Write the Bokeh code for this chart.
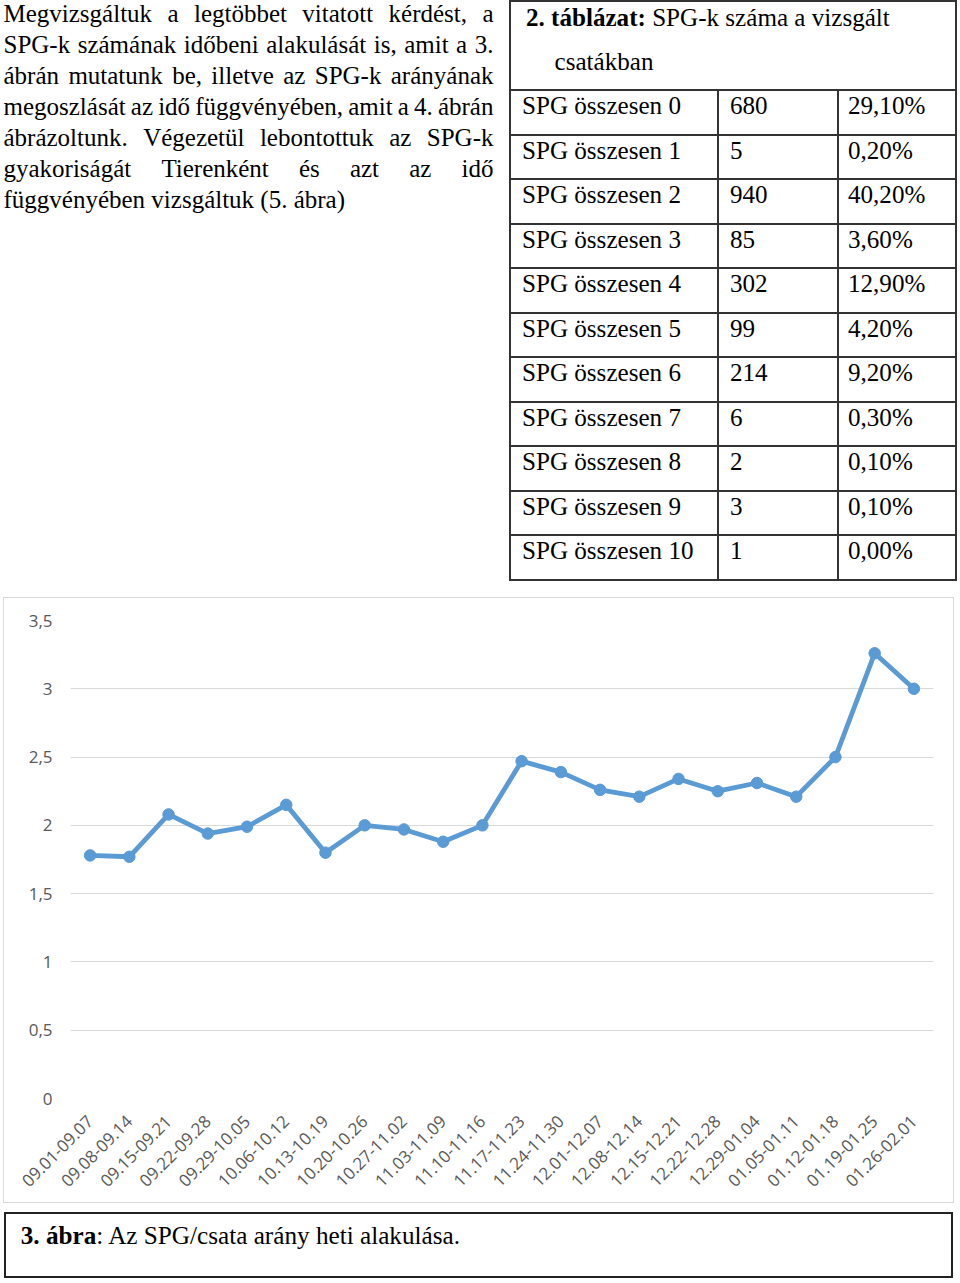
import math
from bokeh.plotting import figure
from bokeh.models import Div, FixedTicker, FactorRange
from bokeh.layouts import column
from bokeh.embed import file_html
from bokeh.resources import INLINE

# ---------------- data ----------------
weeks = ["09.01-09.07", "09.08-09.14", "09.15-09.21", "09.22-09.28", "09.29-10.05",
         "10.06-10.12", "10.13-10.19", "10.20-10.26", "10.27-11.02", "11.03-11.09",
         "11.10-11.16", "11.17-11.23", "11.24-11.30", "12.01-12.07", "12.08-12.14",
         "12.15-12.21", "12.22-12.28", "12.29-01.04", "01.05-01.11", "01.12-01.18",
         "01.19-01.25", "01.26-02.01"]
ratio = [1.78, 1.77, 2.08, 1.94, 1.99, 2.15, 1.80, 2.00, 1.97, 1.88, 2.00,
         2.47, 2.39, 2.26, 2.21, 2.34, 2.25, 2.31, 2.21, 2.50, 3.26, 3.00]

ytick_values = [0, 0.5, 1, 1.5, 2, 2.5, 3, 3.5]
ytick_labels = ["0", "0,5", "1", "1,5", "2", "2,5", "3", "3,5"]

spg_labels = ["SPG összesen 0", "SPG összesen 1", "SPG összesen 2", "SPG összesen 3",
              "SPG összesen 4", "SPG összesen 5", "SPG összesen 6", "SPG összesen 7",
              "SPG összesen 8", "SPG összesen 9", "SPG összesen 10"]
spg_counts = ["680", "5", "940", "85", "302", "99", "214", "6", "2", "3", "1"]
spg_pct = ["29,10%", "0,20%", "40,20%", "3,60%", "12,90%", "4,20%", "9,20%",
           "0,30%", "0,10%", "0,10%", "0,00%"]

para_lines = [
    "Megvizsgáltuk a legtöbbet vitatott kérdést, a",
    "SPG-k számának időbeni alakulását is, amit a 3.",
    "ábrán mutatunk be, illetve az SPG-k arányának",
    "megoszlását az idő függvényében, amit a 4. ábrán",
    "ábrázoltunk. Végezetül lebontottuk az SPG-k",
    "gyakoriságát Tierenként és azt az idő",
    "függvényében vizsgáltuk (5. ábra)",
]
table_title_bold = "2. táblázat:"
table_title_rest = " SPG-k száma a vizsgált"
table_title_line2 = "csatákban"
caption_bold = "3. ábra"
caption_rest = ": Az SPG/csata arány heti alakulása."

SERIF = "'Liberation Serif', 'Times New Roman', serif"

# ---------------- top part: paragraph + table ----------------
parts = []
parts.append(f'<div style="position:relative;width:960px;height:597px;font-family:{SERIF};color:#000;">')
for i, line in enumerate(para_lines):
    top = 4.0 + 31 * i
    if i < len(para_lines) - 1:
        words = "".join(f"<span>{w}</span>" for w in line.split(" "))
        parts.append(
            f'<div style="position:absolute;left:3.5px;top:{top}px;width:490px;height:22px;'
            f'line-height:20px;font-size:25px;display:flex;justify-content:space-between;'
            f'white-space:nowrap;">{words}</div>')
    else:
        parts.append(
            f'<div style="position:absolute;left:3.5px;top:{top}px;height:22px;'
            f'line-height:20px;font-size:25px;white-space:nowrap;">{line}</div>')

# table frame
LINE = "#333"
parts.append(f'<div style="position:absolute;left:509px;top:0px;width:448px;height:581px;'
             f'border:2px solid {LINE};box-sizing:border-box;"></div>')
row_h = 44.5
for i in range(len(spg_labels)):
    y = 90 + row_h * i
    parts.append(f'<div style="position:absolute;left:509px;top:{y - 1}px;width:448px;height:2px;background:{LINE};"></div>')
for x in (717, 836.5):
    parts.append(f'<div style="position:absolute;left:{x}px;top:90px;width:2px;height:490px;background:{LINE};"></div>')

cell_style = "position:absolute;height:22px;line-height:20px;font-size:25.1px;white-space:nowrap;"
parts.append(f'<div style="{cell_style}left:526px;top:8.3px;"><b>{table_title_bold}</b>{table_title_rest}</div>')
parts.append(f'<div style="{cell_style}left:554.5px;top:51.6px;">{table_title_line2}</div>')
for i, (a, b, c) in enumerate(zip(spg_labels, spg_counts, spg_pct)):
    top = 90 + row_h * i + 6.2
    parts.append(f'<div style="{cell_style}left:522px;top:{top}px;">{a}</div>')
    parts.append(f'<div style="{cell_style}left:730px;top:{top}px;">{b}</div>')
    parts.append(f'<div style="{cell_style}left:848px;top:{top}px;">{c}</div>')
parts.append('</div>')
top_div = Div(text="".join(parts), width=960, height=597, margin=0)

# ---------------- chart ----------------
p = figure(x_range=FactorRange(factors=weeks), y_range=(0, 3.5),
           width=951, height=606, output_backend="svg", toolbar_location=None,
           min_border_left=66, min_border_right=22, min_border_top=22, min_border_bottom=106,
           margin=(0, 0, 0, 3))
p.styles = {"border": "1px solid #d9d9d9"}
p.outline_line_color = None
p.background_fill_color = "white"
p.border_fill_color = "white"

p.xgrid.grid_line_color = None
p.ygrid.grid_line_color = "#d9d9d9"
p.ygrid.grid_line_width = 1.2

p.yaxis.ticker = FixedTicker(ticks=ytick_values)
p.yaxis.major_label_overrides = {v: l for v, l in zip(ytick_values, ytick_labels)}
for ax in (p.xaxis[0], p.yaxis[0]):
    ax.axis_line_color = None
    ax.major_tick_line_color = None
    ax.minor_tick_line_color = None
    ax.major_tick_out = 0
    ax.major_tick_in = 0
    ax.major_label_text_color = "#595959"
    ax.major_label_text_font = "Open Sans"
    ax.major_label_text_font_size = "17px"
p.yaxis.major_label_standoff = 18
p.xaxis.major_label_orientation = math.pi / 4
p.xaxis.major_label_standoff = 20

BLUE = "#5b9bd5"
p.line(x=weeks, y=ratio, line_color=BLUE, line_width=4.8, line_join="round")
p.scatter(x=weeks, y=ratio, size=11.5, fill_color=BLUE, line_color=BLUE)

# ---------------- caption ----------------
cap = (f'<div style="position:relative;width:960px;height:78px;font-family:{SERIF};color:#000;">'
       f'<div style="position:absolute;left:4px;top:9px;width:949px;height:66px;'
       f'border:2px solid #222;box-sizing:border-box;"></div>'
       f'<div style="position:absolute;left:20.7px;top:23.1px;height:22px;line-height:20px;'
       f'font-size:25.2px;white-space:nowrap;"><b>{caption_bold}</b>{caption_rest}</div>'
       f'</div>')
cap_div = Div(text=cap, width=960, height=78, margin=0)

layout = column(top_div, p, cap_div, spacing=0, margin=0)
open("out.html", "w").write(file_html(layout, INLINE))
